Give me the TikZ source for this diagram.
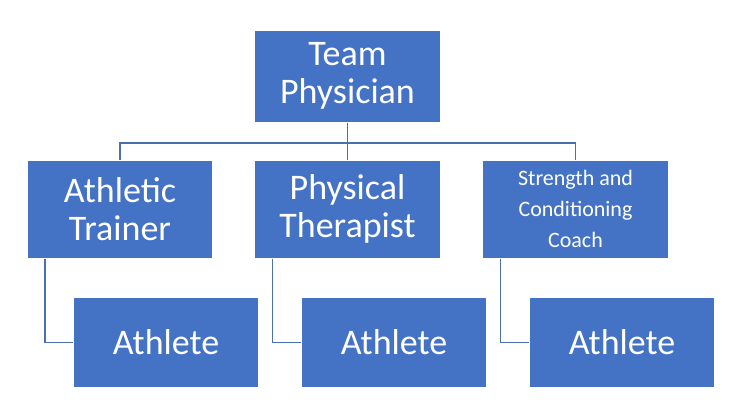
\documentclass[tikz,border=0pt]{standalone}
\usepackage{fontspec}
\setmainfont{Carlito}
\begin{document}
\begin{tikzpicture}[x=0.75pt,y=-0.75pt,
  box/.style={fill=boxblue,draw=white,line width=0.75pt,text=white,align=center,inner sep=0pt,minimum width=139pt,font=\fontsize{27}{29}\selectfont},
  conn/.style={draw=lineblue,line width=1pt}]
\definecolor{boxblue}{HTML}{4472C4}
\definecolor{lineblue}{HTML}{4A6FAE}
\useasboundingbox (0,0) rectangle (743,412);
\node[box,minimum height=69pt] (tp) at (347.5,76) {Team\\Physician};
\node[box,minimum height=73.5pt] (at) at (120,209) {Athletic\\Trainer};
\node[box,minimum height=73.5pt] (pt) at (347.5,209) {Physical\\Therapist};
\node[box,minimum height=73.5pt,font=\fontsize{16.5}{23}\selectfont] (sc) at (575.5,209) {Strength and\\Conditioning\\Coach};
\node[box,minimum height=68pt] (a1) at (166,342.5) {Athlete};
\node[box,minimum height=68pt] (a2) at (394,342.5) {Athlete};
\node[box,minimum height=68pt] (a3) at (622,342.5) {Athlete};
\coordinate (j) at (347.5,143);
\draw[conn] (tp.south) -- (j);
\draw[conn] (at.north) |- (j) -| (sc.north);
\draw[conn] (j) -- (pt.north);
\draw[conn] ([xshift=-56.25pt]at.south) |- (a1.west);
\draw[conn] ([xshift=-56.25pt]pt.south) |- (a2.west);
\draw[conn] ([xshift=-56.25pt]sc.south) |- (a3.west);
\end{tikzpicture}
\end{document}
